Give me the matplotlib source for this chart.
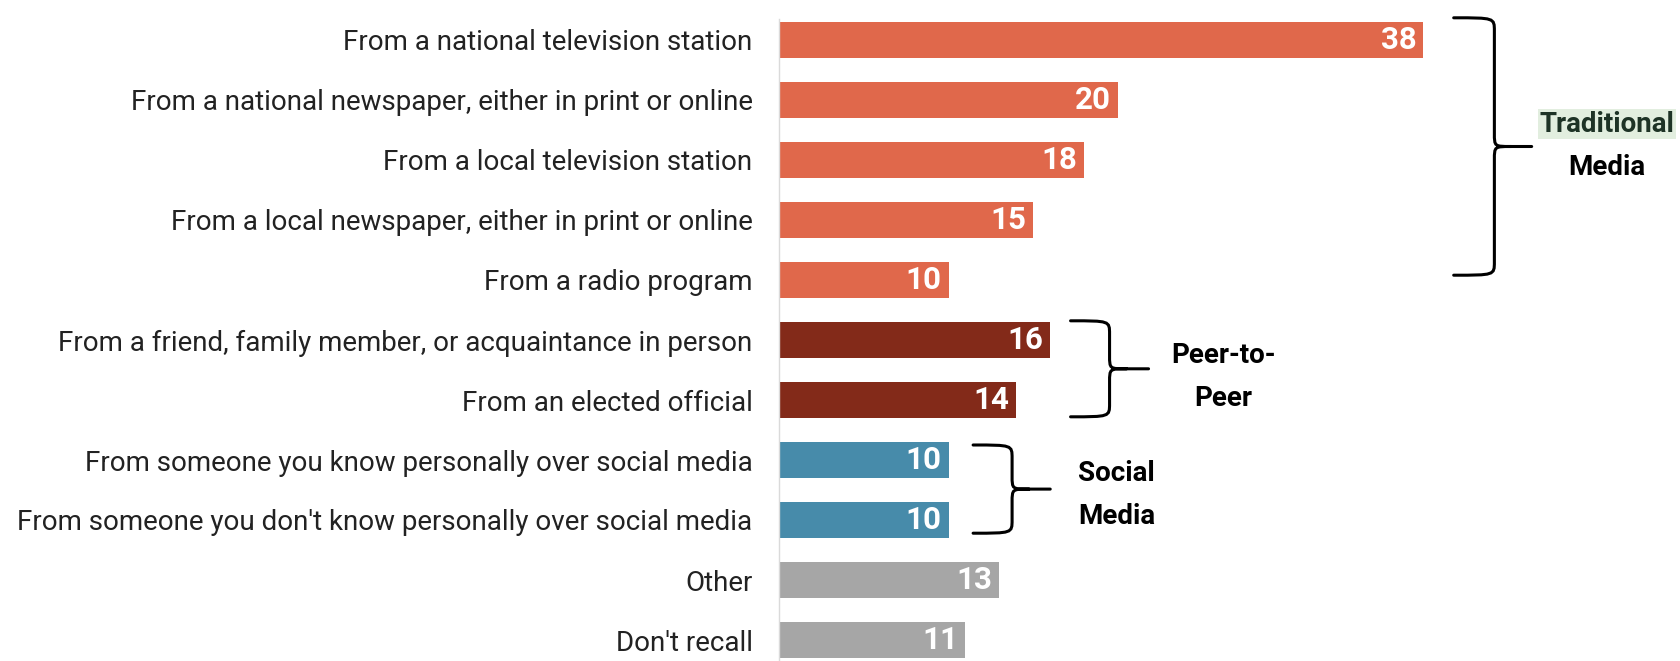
import matplotlib.pyplot as plt
from matplotlib.path import Path
from matplotlib.patches import PathPatch

plt.rcParams['font.family'] = ['Roboto', 'DejaVu Sans']

labels = [
    "From a national television station",
    "From a national newspaper, either in print or online",
    "From a local television station",
    "From a local newspaper, either in print or online",
    "From a radio program",
    "From a friend, family member, or acquaintance in person",
    "From an elected official",
    "From someone you know personally over social media",
    "From someone you don't know personally over social media",
    "Other",
    "Don't recall",
]
values = [38, 20, 18, 15, 10, 16, 14, 10, 10, 13, 11]
groups = ["trad"] * 5 + ["peer"] * 2 + ["social"] * 2 + ["other"] * 2
group_colors = {"trad": "#E0684B", "peer": "#832A19", "social": "#478BAA", "other": "#A6A6A6"}


def brace(ax, x0, xv, xt, y0, y1, r=0.22, d=1.0):
    ym = (y0 + y1) / 2
    verts = [
        (x0, y0), (xv, y0), (xv, y0), (xv, y0 + r),
        (xv, ym - r),
        (xv, ym), (xv, ym), (xv + d, ym),
        (xt, ym),
        (xv + d, ym),
        (xv, ym), (xv, ym), (xv, ym + r),
        (xv, y1 - r),
        (xv, y1), (xv, y1), (x0, y1),
    ]
    codes = [Path.MOVETO, Path.CURVE4, Path.CURVE4, Path.CURVE4,
             Path.LINETO,
             Path.CURVE4, Path.CURVE4, Path.CURVE4,
             Path.LINETO,
             Path.MOVETO,
             Path.CURVE4, Path.CURVE4, Path.CURVE4,
             Path.LINETO,
             Path.CURVE4, Path.CURVE4, Path.CURVE4]
    ax.add_patch(PathPatch(Path(verts, codes), facecolor='none', edgecolor='black',
                           linewidth=2.2, clip_on=False, capstyle='round'))


fig = plt.figure(figsize=(16.8, 6.61), dpi=100)
ax = fig.add_axes([779 / 1680, 0, (1680 - 779) / 1680, (661 - 19) / 661])

ypos = list(range(len(labels)))
ax.barh(ypos, values, height=0.6, color=[group_colors[g] for g in groups])

for y, v in zip(ypos, values):
    ax.text(v - 0.4, y, str(v), ha='right', va='center', color='white',
            fontsize=22.5, fontweight='bold')

ax.set_yticks(ypos)
ax.set_yticklabels(labels, fontsize=20, color='#222222')
ax.tick_params(axis='y', length=0, pad=19)
ax.set_xticks([])
ax.set_xlim(0, 53.15)
ax.set_ylim(10.35, -0.35)
for s in ['top', 'right', 'bottom']:
    ax.spines[s].set_visible(False)
ax.spines['left'].set_color('#DADADA')
ax.spines['left'].set_linewidth(1)

# group brackets
brace(ax, 39.8, 42.2, 44.4, -0.37, 3.92)
brace(ax, 17.2, 19.5, 21.8, 4.68, 6.28)
brace(ax, 11.45, 13.75, 16.0, 6.75, 8.22)

ax.text(48.85, 1.4, "Traditional", ha='center', va='center', fontsize=20,
        fontweight='bold', color='#1E3326',
        bbox=dict(facecolor='#E2EEDF', edgecolor='none', pad=1.5))
ax.text(48.85, 2.13, "Media", ha='center', va='center', fontsize=20, fontweight='bold')
ax.text(26.2, 5.25, "Peer-to-", ha='center', va='center', fontsize=20, fontweight='bold')
ax.text(26.2, 5.97, "Peer", ha='center', va='center', fontsize=20, fontweight='bold')
ax.text(19.9, 7.22, "Social", ha='center', va='center', fontsize=20, fontweight='bold')
ax.text(19.9, 7.95, "Media", ha='center', va='center', fontsize=20, fontweight='bold')

fig.savefig('out.png', dpi=100)
